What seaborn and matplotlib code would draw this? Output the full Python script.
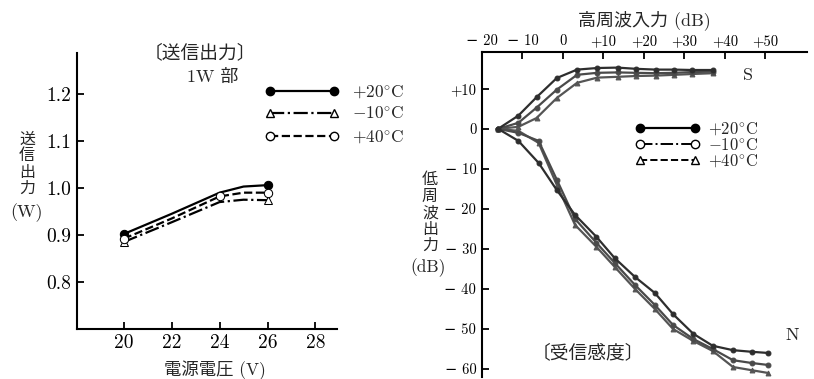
import numpy as np
import pandas as pd
import matplotlib
matplotlib.use('Agg')
import matplotlib.pyplot as plt
import seaborn as sns
from matplotlib.lines import Line2D

# ---- left panel: transmit output vs supply voltage ----
volt = [20, 22, 24, 25, 26]
tx_p20 = [0.902, 0.945, 0.990, 1.003, 1.006]
tx_m10 = [0.885, 0.927, 0.970, 0.975, 0.974]
tx_p40 = [0.892, 0.935, 0.982, 0.990, 0.990]
volt_ticks = [20, 22, 24, 26, 28]
tx_ticks = [0.8, 0.9, 1.0, 1.1, 1.2]

# ---- right panel: RF input vs AF output ----
s_x = [-16, -11, -6.5, -1.5, 3.5, 8.5, 13.5, 18, 23, 27.5, 32, 37]
s_p20 = [0, 3.3, 7.9, 12.7, 14.8, 15.2, 15.3, 15.0, 14.8, 14.8, 14.7, 14.7]
s_m10 = [0, 1.5, 5.3, 9.8, 13.5, 14.0, 14.1, 14.0, 13.9, 14.0, 14.2, 14.3]
s_p40 = [0, 0.5, 2.7, 7.7, 11.5, 12.8, 13.0, 13.2, 13.3, 13.5, 13.7, 13.9]

n_x = [-16, -11, -6, -1.5, 3, 8.3, 12.8, 17.8, 22.7, 27.2, 32.2, 37, 42, 46.6, 50.7]
n_p20 = [0, -3, -8.5, -15.3, -21.5, -27, -32.3, -37, -41, -46.3, -51.2, -54.2, -55.3, -55.7, -56]
n_m10 = [0, -1, -3, -12.7, -22.5, -28.5, -33.5, -39, -44, -49, -52.5, -55, -57.8, -58.5, -59]
n_p40 = [0, -0.5, -3.5, -14, -24, -29.5, -34.5, -40, -45, -50, -53, -55.5, -59.5, -60.3, -61]

rf_ticks = [-20, -10, 0, 10, 20, 30, 40, 50]
rf_labels = ['\u2212 20', '\u2212 10', '0', '+10', '+20', '+30', '+40', '+50']
af_ticks = [10, 0, -10, -20, -30, -40, -50, -60]
af_labels = ['+10', '0', '\u2212 10', '\u2212 20', '\u2212 30', '\u2212 40', '\u2212 50', '\u2212 60']
temp_labels = [r'$+20^{\circ}\mathrm{C}$', r'$-10^{\circ}\mathrm{C}$', r'$+40^{\circ}\mathrm{C}$']

sns.set_theme(style='white')
plt.rcParams['font.family'] = ['cmr10', 'DejaVu Serif', 'Noto Sans CJK JP']
plt.rcParams['mathtext.fontset'] = 'cm'
plt.rcParams['axes.unicode_minus'] = True

fig = plt.figure(figsize=(8.14, 3.79), dpi=100)
ax1 = fig.add_axes([0.0946, 0.132, 0.3194, 0.728])
ax2 = fig.add_axes([0.592, 0.0053, 0.399, 0.8575])

for ax in (ax1, ax2):
    for side in ['left', 'right', 'top', 'bottom']:
        ax.spines[side].set_color('black')
        ax.spines[side].set_linewidth(1.5)

# left panel
sns.lineplot(x=volt, y=tx_p20, ax=ax1, color='black', lw=1.6, linestyle='-',
             marker='o', markevery=[0, 4], ms=6, mfc='black', mec='black')
sns.lineplot(x=volt, y=tx_m10, ax=ax1, color='black', lw=1.6, linestyle='-.',
             marker='^', markevery=[0, 4], ms=6, mfc='white', mec='black')
sns.lineplot(x=volt, y=tx_p40, ax=ax1, color='black', lw=1.6, linestyle='--',
             marker='o', markevery=[0, 2, 4], ms=6, mfc='white', mec='black')

ax1.set_xlim(18.05, 28.9)
ax1.set_ylim(0.70, 1.287)
ax1.set_xticks(volt_ticks, [str(v) for v in volt_ticks])
ax1.set_yticks(tx_ticks, ['%.1f' % v for v in tx_ticks])
ax1.spines['top'].set_visible(False)
ax1.spines['right'].set_visible(False)
ax1.tick_params(direction='in', length=5, width=1.3, labelsize=14, pad=4,
                left=True, bottom=True, colors='black')

ax1.text(0.473, 1.0, '〔送信出力〕', transform=ax1.transAxes, ha='center',
         va='center', fontsize=13.5)
ax1.text(0.523, 0.913, '1W 部', transform=ax1.transAxes, ha='center',
         va='center', fontsize=13)

leg1_handles = [
    Line2D([], [], color='black', lw=1.6, ls='-', marker='o', ms=6, mfc='black', mec='black'),
    Line2D([], [], color='black', lw=1.6, ls='-.', marker='^', ms=6, mfc='white', mec='black'),
    Line2D([], [], color='black', lw=1.6, ls='--', marker='o', ms=6, mfc='white', mec='black'),
]
ax1.legend(leg1_handles, temp_labels, loc='upper left',
           bbox_to_anchor=(265 / 814, 1 - 83 / 379), bbox_transform=fig.transFigure,
           frameon=False, numpoints=2, handlelength=4.3, handletextpad=0.7,
           labelspacing=0.35, borderpad=0, borderaxespad=0, fontsize=12.5)

fig.text(27 / 814, 1 - 164 / 379, '送\n信\n出\n力', ha='center', va='center',
         fontsize=11.5, linespacing=1.2)
fig.text(27 / 814, 1 - 213 / 379, '(W)', ha='center', va='center', fontsize=13)
fig.text(215 / 814, 1 - 370 / 379, '電源電圧 (V)', ha='center', va='center', fontsize=12.5)

# right panel
grey = '#2e2e2e'
for xs, ys, mk, c in [(s_x, s_p40, '^', '#555555'), (s_x, s_m10, 'o', '#4a4a4a'),
                      (s_x, s_p20, 'o', grey), (n_x, n_p40, '^', '#555555'),
                      (n_x, n_m10, 'o', '#4a4a4a'), (n_x, n_p20, 'o', grey)]:
    sns.lineplot(x=xs, y=ys, ax=ax2, color=c, lw=1.6, marker=mk, ms=3.5,
                 mfc=c, mec=c, sort=False)

ax2.set_xlim(-20, 60.2)
ax2.set_ylim(-62, 19.2)
ax2.xaxis.tick_top()
ax2.set_xticks(rf_ticks, rf_labels)
ax2.set_yticks(af_ticks, af_labels)
ax2.spines['bottom'].set_visible(False)
ax2.spines['right'].set_visible(False)
ax2.tick_params(direction='in', length=5, width=1.3, labelsize=10.5, colors='black')
ax2.tick_params(axis='x', top=True, bottom=False, labeltop=True, labelbottom=False, pad=3)
ax2.tick_params(axis='y', left=True, pad=4)

ax2.text(0.818, 0.929, 'S', transform=ax2.transAxes, ha='center', va='center', fontsize=13)
ax2.text(0.957, 0.129, 'N', transform=ax2.transAxes, ha='center', va='center', fontsize=13)
ax2.text(0.326, 0.074, '〔受信感度〕', transform=ax2.transAxes, ha='center',
         va='center', fontsize=13.5)

leg2_handles = [
    Line2D([], [], color='black', lw=1.6, ls='-', marker='o', ms=6, mfc='black', mec='black'),
    Line2D([], [], color='black', lw=1.4, ls='-.', marker='o', ms=6, mfc='white', mec='black'),
    Line2D([], [], color='black', lw=1.4, ls='--', marker='^', ms=6, mfc='white', mec='black'),
]
ax2.legend(leg2_handles, temp_labels, loc='upper left',
           bbox_to_anchor=(635 / 814, 1 - 120 / 379), bbox_transform=fig.transFigure,
           frameon=False, numpoints=2, handlelength=3.9, handletextpad=0.45,
           labelspacing=0.0, borderpad=0, borderaxespad=0, fontsize=12)

fig.text(644 / 814, 1 - 20 / 379, '高周波入力 (dB)', ha='center', va='center', fontsize=13)
fig.text(430 / 814, 1 - 213 / 379, '低\n周\n波\n出\n力', ha='center', va='center',
         fontsize=11.5, linespacing=1.2)
fig.text(428 / 814, 1 - 268 / 379, '(dB)', ha='center', va='center', fontsize=12.5)

fig.savefig('out.png', dpi=100)
